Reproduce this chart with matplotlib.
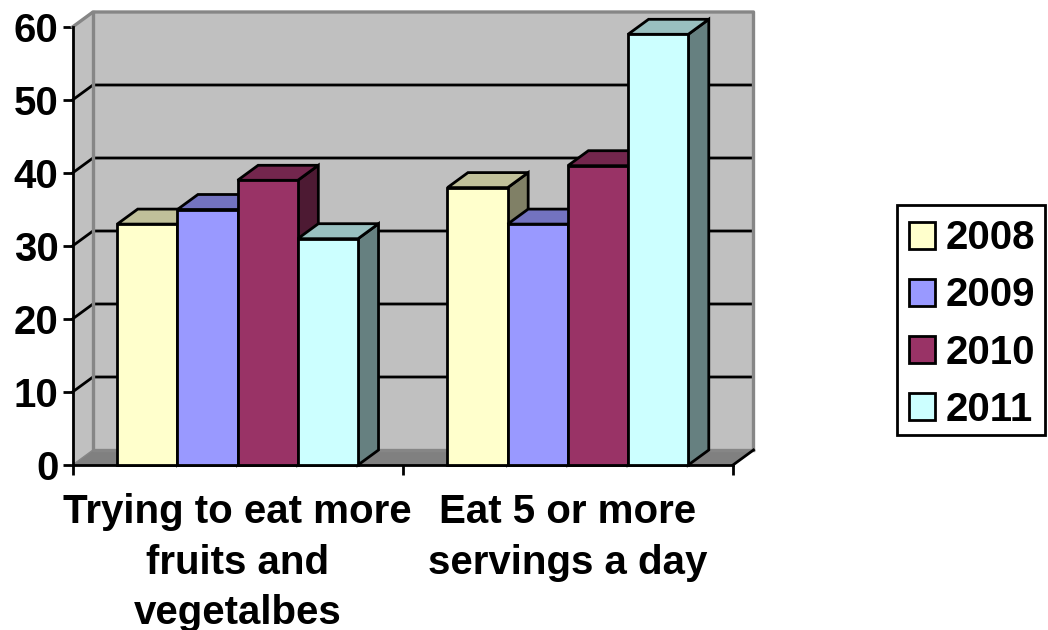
import matplotlib
matplotlib.use('Agg')
import matplotlib.pyplot as plt
from matplotlib.patches import Patch, Rectangle

plt.rcParams['font.family'] = ['Liberation Sans', 'DejaVu Sans']
plt.rcParams['font.weight'] = 'bold'

categories = ['Trying to eat more\nfruits and\nvegetalbes', 'Eat 5 or more\nservings a day']
years = ['2008', '2009', '2010', '2011']
values_2008 = [33, 38]
values_2009 = [35, 33]
values_2010 = [39, 41]
values_2011 = [31, 59]
y_ticks = [0, 10, 20, 30, 40, 50, 60]

series = [values_2008, values_2009, values_2010, values_2011]
front_colors = ['#FFFFCC', '#9999FF', '#993366', '#CCFFFF']
top_colors = ['#C0C09A', '#7373C0', '#73264D', '#99C0C0']
side_colors = ['#808066', '#4D4D80', '#4D1A33', '#668080']

W, H = 1048, 630
fig = plt.figure(figsize=(W / 100, H / 100), dpi=100)
ax = fig.add_axes([72.5 / W, (H - 465) / H, 660.5 / W, 438 / H])
ax.set_xlim(0, 2)
ax.set_ylim(0, 60)

# depth of the fake 3d box, in data units
dx = 20.5 / 330.25
dy = 15 / 7.3
bar_w = 60.2 / 330.25
ymax = y_ticks[-1]
wall = '#C0C0C0'
gray = '#868686'
lw = 2.0
fs = 29

# walls and floor
ax.fill([dx, 2 + dx, 2 + dx, dx], [dy, dy, ymax + dy, ymax + dy], color=wall, lw=0, clip_on=False, zorder=1)
ax.fill([0, dx, dx, 0], [0, dy, ymax + dy, ymax], color=wall, lw=0, clip_on=False, zorder=1)
ax.fill([0, 2, 2 + dx, dx], [0, 0, dy, dy], color='#808080', lw=0, clip_on=False, zorder=1)

for v in y_ticks[1:-1]:
    ax.plot([0, dx, 2 + dx], [v, v + dy, v + dy], color='k', lw=lw, clip_on=False, zorder=1.5)
ax.plot([0, dx, 2 + dx, 2 + dx], [ymax, ymax + dy, ymax + dy, dy], color=gray, lw=2.4, clip_on=False, zorder=1.6)
ax.plot([dx, dx, 2 + dx], [ymax + dy, dy, dy], color=gray, lw=2.4, clip_on=False, zorder=1.6)
ax.plot([0, dx], [0, dy], color=gray, lw=1, clip_on=False, zorder=1.6)
ax.plot([2, 2 + dx], [0, dy], color='k', lw=lw, clip_on=False, zorder=1.6)

# bars, back to front so each one covers the side of the previous one
z = 3
for c in range(len(categories)):
    for s, vals in enumerate(series):
        left = c + 0.5 + (s - 2) * bar_w
        right = left + bar_w
        v = vals[c]
        ax.fill([right, right + dx, right + dx, right], [0, dy, v + dy, v],
                facecolor=side_colors[s], edgecolor='k', lw=lw, joinstyle='miter', clip_on=False, zorder=z)
        ax.fill([left, right, right + dx, left + dx], [v, v, v + dy, v + dy],
                facecolor=top_colors[s], edgecolor='k', lw=lw, joinstyle='miter', clip_on=False, zorder=z)
        ax.bar(left, v, bar_w, align='edge', color=front_colors[s], edgecolor='k', lw=lw,
               clip_on=False, zorder=z + 0.5)
        z += 1

ax.spines['top'].set_visible(False)
ax.spines['right'].set_visible(False)
ax.spines['left'].set_linewidth(lw)
ax.spines['bottom'].set_linewidth(lw)

ax.set_yticks(y_ticks)
ax.tick_params(axis='y', length=7, width=lw, pad=3, labelsize=fs)
ax.set_xticks([0, 1, 2])
ax.set_xticklabels([])
ax.tick_params(axis='x', which='major', length=7, width=lw)
ax.set_xticks([0.5, 1.5], minor=True)
ax.set_xticklabels(categories, minor=True, fontsize=fs, linespacing=1.41)
ax.tick_params(axis='x', which='minor', length=0, pad=20.5)

# legend box is its own rectangle, the entries sit a little low inside it
fig.add_artist(Rectangle((897 / W, 1 - 435 / H), 148 / W, 230 / H, transform=fig.transFigure,
                         facecolor='w', edgecolor='k', lw=lw))
handles = [Patch(facecolor=col, edgecolor='k', lw=lw) for col in front_colors]
fig.legend(handles, years, loc='center left', bbox_to_anchor=(897 / W, 1 - 324 / H),
           fontsize=fs, frameon=False,
           handlelength=0.65, handleheight=0.65, handletextpad=0.25, labelspacing=0.476,
           borderpad=0.3, borderaxespad=0)

fig.savefig('out.png', dpi=100)
